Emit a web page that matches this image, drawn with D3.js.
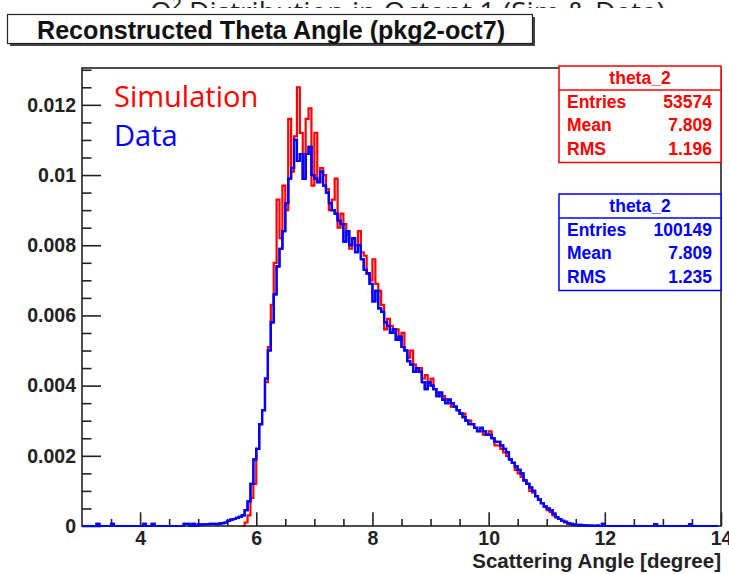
<!DOCTYPE html>
<html><head><meta charset="utf-8">
<script src="https://cdn.jsdelivr.net/npm/d3@7"></script>
<style>
body{margin:0;background:#fff;}
svg{display:block;}
</style></head>
<body>
<svg id="c" width="729" height="574"></svg>
<script>
// ---------- data ----------
const titleText = "Reconstructed Theta Angle (pkg2-oct7)";
const slideHeading = "Q\u00B2 Distribution in Octant 1 (Sim & Data)";
const xAxisTitle = "Scattering Angle [degree]";
const xDomain = [3, 14];
const yDomain = [0, 0.01305];
const xMajorTicks = [4, 6, 8, 10, 12, 14];
const xTickLabels = ["4", "6", "8", "10", "12", "14"];
const yMajorTicks = [0, 0.002, 0.004, 0.006, 0.008, 0.010, 0.012];
const yTickLabels = ["0", "0.002", "0.004", "0.006", "0.008", "0.01", "0.012"];
const binWidth = 0.05;
const valueUnit = 1e-4;

// Data histogram (blue), bins from 3.00
const dataStart = 3.0;
const dataValues = [
  0,0,0,0,0,0.6,0,0,0,0, 0.6,0,0,0,0,0,0,0,0,0, 0,0.6,0,0,0.6,0,0,0,0,0, 0,0,0,0,0,0.6,0.6,0,0.6,0,
  0.5,0.4,0.5,0.5,0.6,0.6,0.5,0.7,0.8,1.0,
  1.5,1.8,2.0,2.3,2.6,3.0,4.5,7,12,19,
  22,29,33,42,50,58,66,74,79,84,
  92,99,102,110,104,106,99,106,108,100,
  99,98,101,97,95,92,90,89,87,86,
  81,84,80,82,78,80,76,73,72,69,
  64,67,62,61,58,57,55,56,53,54,
  51,50,47,46,44,45,44,41,39,41,
  40,39,37,38,36,35,36,35,34,33,
  32,31,30,29,29,28,27,28,27,26,
  26,25,24,24,23,22,21,19,18,17,
  16,15,13,12,11,10,8.5,7.5,6.5,5.5,
  5,4.5,3.5,2.5,2,1.5,1.2,0.8,0.6,0.4,
  0.3,0.3,0.2,0.2,0.1,0.1,0,0.1,0,0.6,
  0,0,0,0,0,0,0,0,0,0, 0,0,0,0,0,0,0,0.5,0,0, 0,0,0,0,0,0,0,0,0,0.5, 0,0,0,0,0,0,0,0,0
];
// Simulation histogram (red), bins from 5.75
const simStart = 5.75;
const simValues = [
  0,1,3,8,12,
  22,29,33,41,51,63,75,93,82,97,
  90,116,101,111,125,112,99,116,119,97,
  112,98,102,100,96,90,93,99,85,89,
  86,83,79,82,80,84,78,77,72,70,
  76,69,67,63,56,59,57,55,56,53,
  55,50,48,50,46,44,45,42,43,41,
  42,39,38,37,37,36,35,34,34,33,
  32,32,30,30,29,28,27,27,26,26,
  27,25,23,23,22,21,20,19,18,16,
  15,14,13,12,10,9.5,8.5,7.5,6.5,5.5,
  4.5,4,3,2.5,2,1.5,1,0.7,0.4,0.2,
  0.1,0
];
const statsSim  = {name:"theta_2", rows:[["Entries","53574"],["Mean","7.809"],["RMS","1.196"]]};
const statsData = {name:"theta_2", rows:[["Entries","100149"],["Mean","7.809"],["RMS","1.235"]]};
const legendLabels = ["Simulation", "Data"];
const colors = {sim:"#ff0000", data:"#0000ff"};

// ---------- layout ----------
const svg = d3.select("#c");
const L = 82, R = 721, T = 68, B = 526;
const x = d3.scaleLinear().domain(xDomain).range([L, R]);
const y = d3.scaleLinear().domain(yDomain).range([B, T]);
const rootFont = "'Liberation Sans', Arial, Helvetica, sans-serif";

// cropped slide heading at very top (only the tops of the letters show)
const clip = svg.append("clipPath").attr("id","topclip");
clip.append("rect").attr("x",0).attr("y",0).attr("width",729).attr("height",8);
svg.append("text").attr("clip-path","url(#topclip)")
  .attr("x",150).attr("y",22).attr("font-family","'Open Sans', sans-serif")
  .attr("font-size",28).attr("textLength",515).attr("lengthAdjust","spacingAndGlyphs")
  .attr("fill","#222").text(slideHeading);

// title box
svg.append("rect").attr("x",10).attr("y",17).attr("width",525).attr("height",29).attr("fill","#444");
svg.append("rect").attr("x",7.5).attr("y",14.5).attr("width",525).attr("height",29)
  .attr("fill","#fff").attr("stroke","#222").attr("stroke-width",1.2);
svg.append("text").attr("x",37).attr("y",39)
  .attr("font-family",rootFont).attr("font-weight","bold").attr("font-size",26)
  .attr("textLength",468).attr("lengthAdjust","spacingAndGlyphs")
  .attr("fill","#111").text(titleText);

// histograms
function stepPath(start, vals){
  const p = d3.path();
  p.moveTo(x(start), y(0));
  vals.forEach((v,i)=>{
    const x0 = start + i*binWidth, x1 = x0 + binWidth;
    p.lineTo(x(x0), y(v*valueUnit));
    p.lineTo(x(x1), y(v*valueUnit));
  });
  return p.toString();
}
svg.append("path").attr("d", stepPath(simStart, simValues))
  .attr("fill","none").attr("stroke",colors.sim).attr("stroke-width",2.2);
svg.append("path").attr("d", stepPath(dataStart, dataValues))
  .attr("fill","none").attr("stroke",colors.data).attr("stroke-width",2.2);

// axes
const yMinor = d3.range(0, 0.01306, 0.0005).filter(v => !yMajorTicks.some(m => Math.abs(m-v)<1e-9));
const xMinor = d3.range(3.5, 14, 0.5).filter(v => !xMajorTicks.includes(v));
const gy = svg.append("g").attr("transform",`translate(${L},0)`)
  .call(d3.axisLeft(y).tickValues(yMajorTicks).tickSizeInner(-19).tickSizeOuter(0).tickPadding(6)
    .tickFormat((d,i)=>yTickLabels[i]));
const gym = svg.append("g").attr("transform",`translate(${L},0)`)
  .call(d3.axisLeft(y).tickValues(yMinor).tickSizeInner(-9.5).tickSizeOuter(0).tickFormat(""));
const gx = svg.append("g").attr("transform",`translate(0,${B})`)
  .call(d3.axisBottom(x).tickValues(xMajorTicks).tickSizeInner(-13.7).tickSizeOuter(0).tickPadding(5)
    .tickFormat((d,i)=>xTickLabels[i]));
const gxm = svg.append("g").attr("transform",`translate(0,${B})`)
  .call(d3.axisBottom(x).tickValues(xMinor).tickSizeInner(-7).tickSizeOuter(0).tickFormat(""));
[gy,gym,gx,gxm].forEach(g=>{
  g.select(".domain").remove();
  g.selectAll("line").attr("stroke","#222").attr("stroke-width",1.6);
  g.selectAll("text").attr("font-family",rootFont).attr("font-weight","bold")
    .attr("font-size",19.5).attr("fill","#222");
});

// frame
svg.append("rect").attr("x",L).attr("y",T).attr("width",R-L).attr("height",B-T)
  .attr("fill","none").attr("stroke","#222").attr("stroke-width",1.6);
// redraw blue on baseline over frame bottom
svg.append("path").attr("d", stepPath(dataStart, dataValues))
  .attr("fill","none").attr("stroke",colors.data).attr("stroke-width",2.2);

// x axis title
svg.append("text").attr("x",R).attr("y",568).attr("text-anchor","end")
  .attr("font-family",rootFont).attr("font-weight","bold").attr("font-size",20.5)
  .attr("fill","#222").text(xAxisTitle);

// legend texts
svg.append("text").attr("x",114).attr("y",107).attr("font-family","'Open Sans', sans-serif")
  .attr("font-size",29).attr("fill",colors.sim).text(legendLabels[0]);
svg.append("text").attr("x",114).attr("y",146).attr("font-family","'Open Sans', sans-serif")
  .attr("font-size",29).attr("fill",colors.data).text(legendLabels[1]);

// stats boxes
function statsBox(st, top, color){
  const bx = 559, bw = 162, hh = 24, rowH = 23.5;
  const h = hh + rowH*st.rows.length + 2;
  const g = svg.append("g");
  g.append("rect").attr("x",bx).attr("y",top).attr("width",bw).attr("height",h)
    .attr("fill","#fff").attr("stroke",color).attr("stroke-width",1.5);
  g.append("line").attr("x1",bx).attr("x2",bx+bw).attr("y1",top+hh).attr("y2",top+hh)
    .attr("stroke",color).attr("stroke-width",1.5);
  g.append("text").attr("x",bx+bw/2).attr("y",top+17.5).attr("text-anchor","middle")
    .attr("font-family",rootFont).attr("font-weight","bold").attr("font-size",17.5)
    .attr("fill",color).text(st.name);
  st.rows.forEach((r,i)=>{
    const yy = top + hh + 17.5 + i*rowH;
    g.append("text").attr("x",bx+8).attr("y",yy).attr("font-family",rootFont)
      .attr("font-weight","bold").attr("font-size",17.5).attr("fill",color).text(r[0]);
    g.append("text").attr("x",bx+bw-9).attr("y",yy).attr("text-anchor","end").attr("font-family",rootFont)
      .attr("font-weight","bold").attr("font-size",17.5).attr("fill",color).text(r[1]);
  });
}
statsBox(statsSim, 66, colors.sim);
statsBox(statsData, 194, colors.data);
</script>
</body></html>
